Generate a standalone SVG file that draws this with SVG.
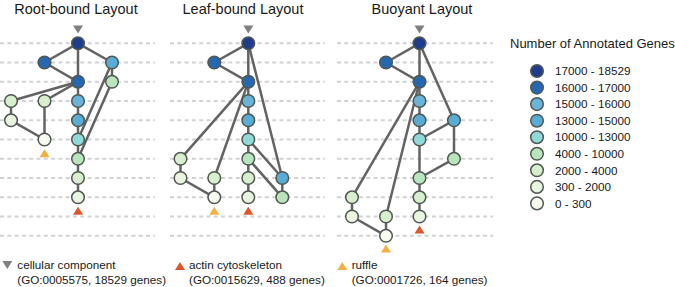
<svg xmlns="http://www.w3.org/2000/svg" xmlns:xlink="http://www.w3.org/1999/xlink" width="675" height="287" viewBox="0 0 675 287">
<style>
text{font-family:"Liberation Sans",Arial,sans-serif;fill:#1a1a1a}
.title{font-size:14.5px;text-anchor:middle}
.lg{font-size:11.7px}
.grid line{stroke:#d2d2d2;stroke-width:2;stroke-dasharray:4 3.3}
.edges line{stroke:#636363;stroke-width:2.5;stroke-linecap:round}
circle{stroke:#4f5853;stroke-width:1.5}
.c1{fill:#1f3d8a}.c2{fill:#2767b0}.c3{fill:#6ab4da}.c4{fill:#58acd6}.c5{fill:#8fdad9}
.c6{fill:#b9e5bd}.c7{fill:#d8efcd}.c8{fill:#e9f5df}.c9{fill:#f8fbf0}
.tg{fill:#808080}.tr{fill:#e05529}.to{fill:#f4b043}
</style>
<defs>
<path id="down" d="M-5,-4 L5,-4 L0,4 Z"/>
<path id="up" d="M-5,4 L5,4 L0,-4 Z"/>
</defs>

<text class="title" x="76" y="13.5">Root-bound Layout</text>
<text class="title" x="243" y="13.5">Leaf-bound Layout</text>
<text class="title" x="422" y="13.5">Buoyant Layout</text>

<g class="grid">
<line x1="0" y1="43.3" x2="155" y2="43.3"/><line x1="0" y1="62.5" x2="155" y2="62.5"/><line x1="0" y1="81.8" x2="155" y2="81.8"/><line x1="0" y1="101" x2="155" y2="101"/><line x1="0" y1="120.3" x2="155" y2="120.3"/><line x1="0" y1="139.5" x2="155" y2="139.5"/><line x1="0" y1="158.8" x2="155" y2="158.8"/><line x1="0" y1="178" x2="155" y2="178"/><line x1="0" y1="197.3" x2="155" y2="197.3"/><line x1="0" y1="216.5" x2="155" y2="216.5"/><line x1="0" y1="235.8" x2="155" y2="235.8"/>
<line x1="170" y1="43.3" x2="325" y2="43.3"/><line x1="170" y1="62.5" x2="325" y2="62.5"/><line x1="170" y1="81.8" x2="325" y2="81.8"/><line x1="170" y1="101" x2="325" y2="101"/><line x1="170" y1="120.3" x2="325" y2="120.3"/><line x1="170" y1="139.5" x2="325" y2="139.5"/><line x1="170" y1="158.8" x2="325" y2="158.8"/><line x1="170" y1="178" x2="325" y2="178"/><line x1="170" y1="197.3" x2="325" y2="197.3"/><line x1="170" y1="216.5" x2="325" y2="216.5"/><line x1="170" y1="235.8" x2="325" y2="235.8"/>
<line x1="337" y1="43.3" x2="493" y2="43.3"/><line x1="337" y1="62.5" x2="493" y2="62.5"/><line x1="337" y1="81.8" x2="493" y2="81.8"/><line x1="337" y1="101" x2="493" y2="101"/><line x1="337" y1="120.3" x2="493" y2="120.3"/><line x1="337" y1="139.5" x2="493" y2="139.5"/><line x1="337" y1="158.8" x2="493" y2="158.8"/><line x1="337" y1="178" x2="493" y2="178"/><line x1="337" y1="197.3" x2="493" y2="197.3"/><line x1="337" y1="216.5" x2="493" y2="216.5"/><line x1="337" y1="235.8" x2="493" y2="235.8"/>
</g>

<g id="connectors" class="edges">
<!-- panel 1 -->
<line x1="78" y1="43.3" x2="44.5" y2="62.5"/>
<line x1="78" y1="43.3" x2="78" y2="81.8"/>
<line x1="78" y1="43.3" x2="112" y2="62.5"/>
<line x1="44.5" y1="62.5" x2="78" y2="81.8"/>
<line x1="112" y1="62.5" x2="112" y2="81.8"/>
<line x1="112" y1="62.5" x2="78" y2="139.5"/>
<line x1="112" y1="81.8" x2="78" y2="158.8"/>
<line x1="78" y1="81.8" x2="11" y2="101"/>
<line x1="78" y1="81.8" x2="44.5" y2="101"/>
<line x1="78" y1="81.8" x2="78" y2="197.3"/>
<line x1="11" y1="101" x2="11" y2="120.3"/>
<line x1="11" y1="120.3" x2="44.5" y2="139.5"/>
<line x1="44.5" y1="101" x2="44.5" y2="139.5"/>
<!-- panel 2 -->
<line x1="248.3" y1="43.3" x2="214.3" y2="62.5"/>
<line x1="248.3" y1="43.3" x2="248.3" y2="81.8"/>
<line x1="248.3" y1="43.3" x2="282.3" y2="178"/>
<line x1="214.3" y1="62.5" x2="248.3" y2="81.8"/>
<line x1="248.3" y1="81.8" x2="180.5" y2="158.8"/>
<line x1="248.3" y1="81.8" x2="214.3" y2="178"/>
<line x1="248.3" y1="81.8" x2="248.3" y2="197.3"/>
<line x1="248.3" y1="139.5" x2="282.3" y2="178"/>
<line x1="248.3" y1="158.8" x2="282.3" y2="197.3"/>
<line x1="282.3" y1="178" x2="282.3" y2="197.3"/>
<line x1="180.5" y1="158.8" x2="180.5" y2="178"/>
<line x1="180.5" y1="178" x2="214.3" y2="197.3"/>
<line x1="214.3" y1="178" x2="214.3" y2="197.3"/>
<!-- panel 3 -->
<line x1="419.5" y1="43.3" x2="386" y2="62.5"/>
<line x1="419.5" y1="43.3" x2="419.5" y2="81.8"/>
<line x1="419.5" y1="43.3" x2="454" y2="120.3"/>
<line x1="386" y1="62.5" x2="419.5" y2="81.8"/>
<line x1="419.5" y1="81.8" x2="352" y2="197.3"/>
<line x1="419.5" y1="81.8" x2="386" y2="216.5"/>
<line x1="419.5" y1="81.8" x2="419.5" y2="216.5"/>
<line x1="454" y1="120.3" x2="419.5" y2="139.5"/>
<line x1="454" y1="120.3" x2="454" y2="158.8"/>
<line x1="454" y1="158.8" x2="419.5" y2="178"/>
<line x1="352" y1="197.3" x2="352" y2="216.5"/>
<line x1="352" y1="216.5" x2="386" y2="235.8"/>
<line x1="386" y1="216.5" x2="386" y2="235.8"/>
</g>

<g id="panel1-nodes">
<g id="p1-root"><circle class="c1" cx="78" cy="43.3" r="6.3"/></g>
<g id="p1-a"><circle class="c2" cx="44.5" cy="62.5" r="6.3"/></g>
<g id="p1-e"><circle class="c4" cx="112" cy="62.5" r="6.3"/></g>
<g id="p1-b"><circle class="c2" cx="78" cy="81.8" r="6.3"/></g>
<g id="p1-f"><circle class="c6" cx="112" cy="81.8" r="6.3"/></g>
<g id="p1-j"><circle class="c7" cx="11" cy="101" r="6.3"/></g>
<g id="p1-l"><circle class="c7" cx="44.5" cy="101" r="6.3"/></g>
<g id="p1-c1"><circle class="c3" cx="78" cy="101" r="6.3"/></g>
<g id="p1-k"><circle class="c8" cx="11" cy="120.3" r="6.3"/></g>
<g id="p1-c2"><circle class="c4" cx="78" cy="120.3" r="6.3"/></g>
<g id="p1-m"><circle class="c9" cx="44.5" cy="139.5" r="6.3"/></g>
<g id="p1-d"><circle class="c5" cx="78" cy="139.5" r="6.3"/></g>
<g id="p1-g"><circle class="c6" cx="78" cy="158.8" r="6.3"/></g>
<g id="p1-h"><circle class="c7" cx="78" cy="178" r="6.3"/></g>
<g id="p1-i"><circle class="c8" cx="78" cy="197.3" r="6.3"/></g>
<use href="#down" class="tg" x="78" y="29.5"/>
<use href="#up" class="to" x="44.5" y="153.3"/>
<use href="#up" class="tr" x="78" y="210.8"/>
</g>

<g id="panel2-nodes">
<g id="p2-root"><circle class="c1" cx="248.3" cy="43.3" r="6.3"/></g>
<g id="p2-a"><circle class="c2" cx="214.3" cy="62.5" r="6.3"/></g>
<g id="p2-b"><circle class="c2" cx="248.3" cy="81.8" r="6.3"/></g>
<g id="p2-c1"><circle class="c3" cx="248.3" cy="101" r="6.3"/></g>
<g id="p2-c2"><circle class="c4" cx="248.3" cy="120.3" r="6.3"/></g>
<g id="p2-d"><circle class="c5" cx="248.3" cy="139.5" r="6.3"/></g>
<g id="p2-j"><circle class="c7" cx="180.5" cy="158.8" r="6.3"/></g>
<g id="p2-g"><circle class="c6" cx="248.3" cy="158.8" r="6.3"/></g>
<g id="p2-k"><circle class="c8" cx="180.5" cy="178" r="6.3"/></g>
<g id="p2-l"><circle class="c7" cx="214.3" cy="178" r="6.3"/></g>
<g id="p2-h"><circle class="c7" cx="248.3" cy="178" r="6.3"/></g>
<g id="p2-e"><circle class="c4" cx="282.3" cy="178" r="6.3"/></g>
<g id="p2-m"><circle class="c9" cx="214.3" cy="197.3" r="6.3"/></g>
<g id="p2-i"><circle class="c8" cx="248.3" cy="197.3" r="6.3"/></g>
<g id="p2-f"><circle class="c6" cx="282.3" cy="197.3" r="6.3"/></g>
<use href="#down" class="tg" x="248.3" y="29.5"/>
<use href="#up" class="to" x="214.3" y="210.8"/>
<use href="#up" class="tr" x="248.3" y="210.8"/>
</g>

<g id="panel3-nodes">
<g id="p3-root"><circle class="c1" cx="419.5" cy="43.3" r="6.3"/></g>
<g id="p3-a"><circle class="c2" cx="386" cy="62.5" r="6.3"/></g>
<g id="p3-b"><circle class="c2" cx="419.5" cy="81.8" r="6.3"/></g>
<g id="p3-c1"><circle class="c3" cx="419.5" cy="101" r="6.3"/></g>
<g id="p3-c2"><circle class="c4" cx="419.5" cy="120.3" r="6.3"/></g>
<g id="p3-e"><circle class="c4" cx="454" cy="120.3" r="6.3"/></g>
<g id="p3-d"><circle class="c5" cx="419.5" cy="139.5" r="6.3"/></g>
<g id="p3-f"><circle class="c6" cx="454" cy="158.8" r="6.3"/></g>
<g id="p3-g"><circle class="c6" cx="419.5" cy="178" r="6.3"/></g>
<g id="p3-h"><circle class="c7" cx="419.5" cy="197.3" r="6.3"/></g>
<g id="p3-j"><circle class="c7" cx="352" cy="197.3" r="6.3"/></g>
<g id="p3-i"><circle class="c8" cx="419.5" cy="216.5" r="6.3"/></g>
<g id="p3-k"><circle class="c8" cx="352" cy="216.5" r="6.3"/></g>
<g id="p3-l"><circle class="c7" cx="386" cy="216.5" r="6.3"/></g>
<g id="p3-m"><circle class="c9" cx="386" cy="235.8" r="6.3"/></g>
<use href="#down" class="tg" x="419.5" y="29.5"/>
<use href="#up" class="tr" x="419.5" y="229.5"/>
<use href="#up" class="to" x="386" y="248.5"/>
</g>

<g id="color-legend">
<text x="510" y="48" style="font-size:13px">Number of Annotated Genes</text>
<circle class="c1" cx="537" cy="71" r="6.3"/><text class="lg" x="555" y="75.2">17000 - 18529</text>
<circle class="c2" cx="537" cy="87.6" r="6.3"/><text class="lg" x="555" y="91.8">16000 - 17000</text>
<circle class="c3" cx="537" cy="104.1" r="6.3"/><text class="lg" x="555" y="108.3">15000 - 16000</text>
<circle class="c4" cx="537" cy="120.7" r="6.3"/><text class="lg" x="555" y="124.9">13000 - 15000</text>
<circle class="c5" cx="537" cy="137.2" r="6.3"/><text class="lg" x="555" y="141.4">10000 - 13000</text>
<circle class="c6" cx="537" cy="153.8" r="6.3"/><text class="lg" x="555" y="158">4000 - 10000</text>
<circle class="c7" cx="537" cy="170.3" r="6.3"/><text class="lg" x="555" y="174.5">2000 - 4000</text>
<circle class="c8" cx="537" cy="186.9" r="6.3"/><text class="lg" x="555" y="191.1">300 - 2000</text>
<circle class="c9" cx="537" cy="203.4" r="6.3"/><text class="lg" x="555" y="207.6">0 - 300</text>
</g>

<g id="term-legend">
<use href="#down" class="tg" x="7.3" y="265"/>
<text class="lg" x="17.3" y="269">cellular component</text>
<text class="lg" x="17.3" y="284">(GO:0005575, 18529 genes)</text>
<use href="#up" class="tr" x="180" y="266"/>
<text class="lg" x="189" y="269">actin cytoskeleton</text>
<text class="lg" x="189" y="284">(GO:0015629, 488 genes)</text>
<use href="#up" class="to" x="342.3" y="266"/>
<text class="lg" x="351.7" y="269">ruffle</text>
<text class="lg" x="351.7" y="284">(GO:0001726, 164 genes)</text>
</g>
</svg>
